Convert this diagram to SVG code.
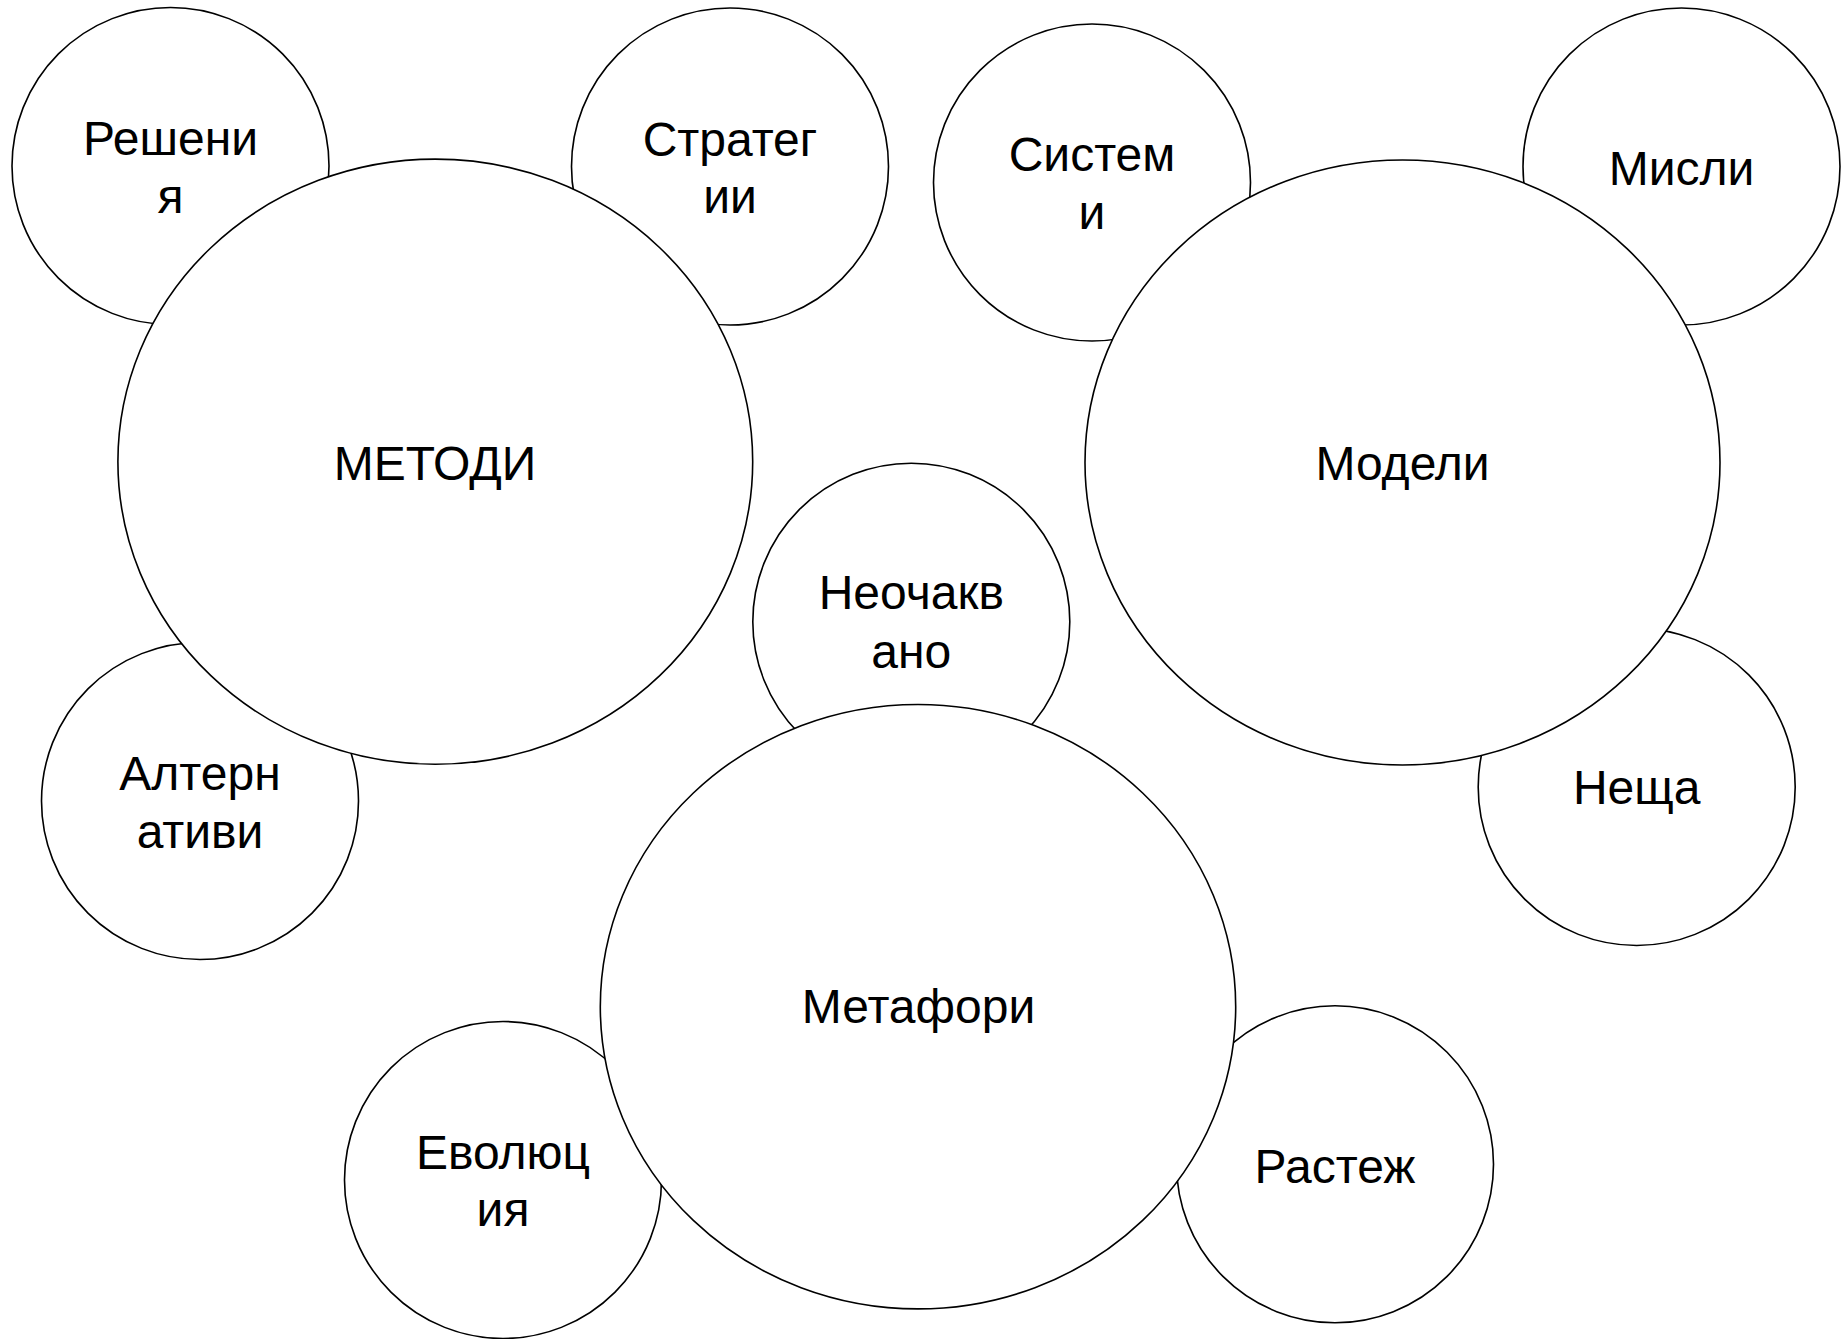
<svg xmlns="http://www.w3.org/2000/svg" width="1841" height="1339" viewBox="0 0 1841 1339">
<style>
.n{fill:#ffffff;stroke:#000000;stroke-width:1.6}
.t{font-family:"Liberation Sans",Arial,sans-serif;font-size:48px;fill:#000000;text-anchor:middle}
</style>
<rect x="0" y="0" width="1841" height="1339" fill="#ffffff"/>
<g id="connectors"></g>
<g id="n-reshenia"><circle class="n" cx="170.5" cy="166" r="158.5"/><text class="t" x="170.5" y="155">Решени</text><text class="t" x="170.5" y="212.5">я</text></g>
<g id="n-strategii"><circle class="n" cx="730" cy="166.5" r="158.5"/><text class="t" x="730" y="155.5">Стратег</text><text class="t" x="730" y="212.5">ии</text></g>
<g id="n-alternativi"><circle class="n" cx="200" cy="801" r="158.5"/><text class="t" x="200" y="790">Алтерн</text><text class="t" x="200" y="847.5">ативи</text></g>
<g id="n-metodi"><ellipse class="n" cx="435.3" cy="461.7" rx="317.4" ry="302.6"/><text class="t" x="435" y="479.5">МЕТОДИ</text></g>
<g id="n-sistemi"><circle class="n" cx="1092" cy="182.5" r="158.5"/><text class="t" x="1092" y="171">Систем</text><text class="t" x="1092" y="228.5">и</text></g>
<g id="n-misli"><circle class="n" cx="1681.5" cy="166.5" r="158.5"/><text class="t" x="1681.5" y="184.5">Мисли</text></g>
<g id="n-neshta"><circle class="n" cx="1636.7" cy="787" r="158.5"/><text class="t" x="1636.7" y="804">Неща</text></g>
<g id="n-modeli"><ellipse class="n" cx="1402.5" cy="462.5" rx="317.5" ry="302.5"/><text class="t" x="1402.5" y="480">Модели</text></g>
<g id="n-neochakvano"><circle class="n" cx="911.3" cy="621.7" r="158.5"/><text class="t" x="911.3" y="609">Неочакв</text><text class="t" x="911.3" y="667.5">ано</text></g>
<g id="n-evolucia"><circle class="n" cx="503" cy="1180" r="158.5"/><text class="t" x="503" y="1169">Еволюц</text><text class="t" x="503" y="1225.5">ия</text></g>
<g id="n-rastezh"><circle class="n" cx="1335" cy="1164.3" r="158.5"/><text class="t" x="1335" y="1182.5">Растеж</text></g>
<g id="n-metafori"><ellipse class="n" cx="918" cy="1006.7" rx="317.7" ry="302.2"/><text class="t" x="918.5" y="1023">Метафори</text></g>
</svg>
